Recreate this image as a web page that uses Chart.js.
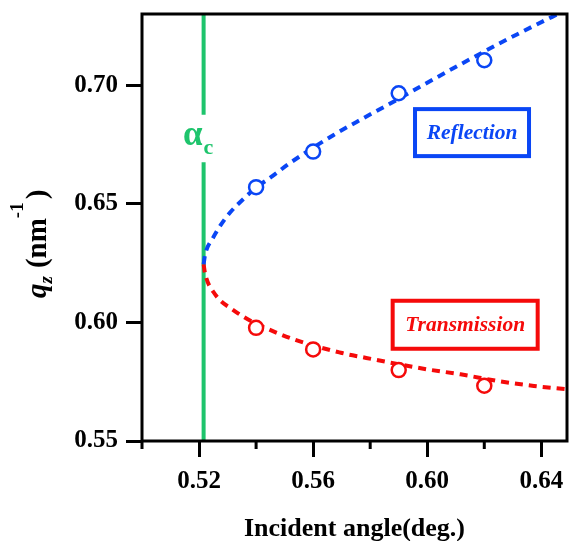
<!DOCTYPE html>
<html>
<head>
<meta charset="utf-8">
<script src="https://cdn.jsdelivr.net/npm/chart.js@4"></script>
<style>
  body { margin: 0; background: #fff; }
  canvas { display: block; }
</style>
</head>
<body>
<canvas id="chart" width="569" height="541"></canvas>
<script>
// measured points (circles)
const reflAngle = [0.54, 0.56, 0.59, 0.62];
const reflQz = [0.657, 0.672, 0.6966, 0.7105];
const transAngle = [0.54, 0.56, 0.59, 0.62];
const transQz = [0.5977, 0.5886, 0.5799, 0.5733];

// fitted curves (dashed)
const reflFitAngle = [0.5216, 0.5221, 0.5249, 0.5273, 0.5308, 0.5351, 0.54, 0.5452, 0.5519, 0.5672, 0.5778, 0.5872, 0.6117, 0.6316, 0.6438, 0.649];
const reflFitQz = [0.6245, 0.6284, 0.6356, 0.6405, 0.6462, 0.6515, 0.6568, 0.6612, 0.6672, 0.679, 0.6862, 0.6924, 0.7088, 0.7215, 0.7288, 0.7318];
const transFitAngle = [0.5216, 0.5221, 0.525, 0.532, 0.5487, 0.5697, 0.5774, 0.6, 0.6117, 0.6257, 0.6374, 0.649];
const transFitQz = [0.6245, 0.6207, 0.6129, 0.6052, 0.5949, 0.5872, 0.5853, 0.5802, 0.5781, 0.5751, 0.5732, 0.5718];

// critical angle line (broken where the label sits)
const alphaC = 0.5216;
const alphaCLineQz = [0.55, 0.6675, null, 0.6875, 0.73];

const xTicks = [0.52, 0.56, 0.60, 0.64];
const xMinorTicks = [0.50, 0.54, 0.58, 0.62];
const yTicks = [0.55, 0.60, 0.65, 0.70];

const BLUE = '#0a46f5';
const RED = '#f50a0a';
const GREEN = '#1ec46c';
const SERIF = '"Liberation Serif", "Times New Roman", serif';

const toXY = (xs, ys) => xs.map((x, i) => ({ x: x, y: ys[i] }));

const fitLine = (label, xs, ys, color) => ({
  type: 'line',
  label: label,
  data: toXY(xs, ys),
  borderColor: color,
  borderWidth: 4,
  borderDash: [8, 6],
  pointRadius: 0,
  cubicInterpolationMode: 'monotone',
  fill: false,
  clip: 0,
  order: 2,
});

const markers = (label, xs, ys, color) => ({
  label: label,
  data: toXY(xs, ys),
  borderColor: color,
  backgroundColor: '#fff',
  borderWidth: 2.5,
  pointRadius: 7,
  pointStyle: 'circle',
  order: 0,
});

const extras = {
  id: 'extras',
  afterDraw(chart) {
    const { ctx, chartArea: a, scales } = chart;
    const xs = scales.x, ys = scales.y;
    ctx.save();

    // frame
    ctx.strokeStyle = '#000';
    ctx.lineWidth = 3;
    ctx.strokeRect(a.left, a.top, a.right - a.left, a.bottom - a.top);

    // minor x ticks
    ctx.beginPath();
    xMinorTicks.forEach((v) => {
      const px = xs.getPixelForValue(v);
      ctx.moveTo(px, a.bottom);
      ctx.lineTo(px, a.bottom + 8);
    });
    ctx.stroke();

    // alpha_c label
    const cx = xs.getPixelForValue(alphaC);
    ctx.fillStyle = GREEN;
    ctx.textBaseline = 'alphabetic';
    ctx.font = 'bold 35px ' + SERIF;
    ctx.textAlign = 'right';
    ctx.fillText('α', cx - 1, 145);
    ctx.textAlign = 'left';
    ctx.font = 'bold 22px ' + SERIF;
    ctx.fillText('c', cx + 0, 154);

    // legend boxes
    const box = (text, vx, vy, w, h, color) => {
      const px = xs.getPixelForValue(vx), py = ys.getPixelForValue(vy);
      ctx.strokeStyle = color;
      ctx.lineWidth = 4;
      ctx.strokeRect(px - w / 2, py - h / 2, w, h);
      ctx.fillStyle = color;
      ctx.font = 'italic bold 21.5px ' + SERIF;
      ctx.textAlign = 'center';
      ctx.textBaseline = 'middle';
      ctx.fillText(text, px, py + 1);
    };
    box('Reflection', 0.6157, 0.680, 114, 47, BLUE);
    box('Transmission', 0.6133, 0.599, 145, 48, RED);

    // x title
    ctx.fillStyle = '#000';
    ctx.font = 'bold 26px ' + SERIF;
    ctx.textAlign = 'center';
    ctx.textBaseline = 'alphabetic';
    ctx.fillText('Incident angle(deg.)', (a.left + a.right) / 2, 536);

    // y title: q_z (nm^-1)
    ctx.translate(46, 298);
    ctx.rotate(-Math.PI / 2);
    ctx.textAlign = 'left';
    let tx = 0;
    const put = (t, font, dy) => {
      ctx.font = font;
      ctx.fillText(t, tx, dy);
      tx += ctx.measureText(t).width;
    };
    put('q', 'italic bold 29px ' + SERIF, 0);
    put('z', 'italic bold 19px ' + SERIF, 6);
    tx += 8;
    put('(nm', 'bold 29px ' + SERIF, 0);
    put('-1', 'bold 19px ' + SERIF, -23);
    tx += 3;
    put(')', 'bold 29px ' + SERIF, 0);

    ctx.restore();
  },
};

const tickFont = { family: SERIF, size: 25, weight: 'bold' };

new Chart(document.getElementById('chart'), {
  type: 'scatter',
  data: {
    datasets: [
      markers('Reflection data', reflAngle, reflQz, BLUE),
      markers('Transmission data', transAngle, transQz, RED),
      fitLine('Reflection fit', reflFitAngle, reflFitQz, BLUE),
      fitLine('Transmission fit', transFitAngle, transFitQz, RED),
      {
        type: 'line',
        label: 'alpha_c',
        data: alphaCLineQz.map((y) => ({ x: alphaC, y: y })),
        borderColor: GREEN,
        borderWidth: 4,
        pointRadius: 0,
        spanGaps: false,
        order: 3,
      },
    ],
  },
  options: {
    responsive: false,
    animation: false,
    layout: { autoPadding: false, padding: { top: 14, right: 2, left: 0, bottom: 0 } },
    plugins: { legend: { display: false }, tooltip: { enabled: false } },
    scales: {
      x: {
        type: 'linear',
        min: 0.50,
        max: 0.649,
        afterBuildTicks: (s) => { s.ticks = xTicks.map((v) => ({ value: v })); },
        afterFit: (s) => { s.height = 100; s.paddingLeft = 0; s.paddingRight = 0; },
        grid: { drawOnChartArea: false, color: '#000', tickColor: '#000', tickLength: 16, tickWidth: 3 },
        border: { display: false },
        ticks: { font: tickFont, color: '#000', padding: 10, maxRotation: 0, callback: (v) => v.toFixed(2) },
      },
      y: {
        type: 'linear',
        min: 0.55,
        max: 0.73,
        afterBuildTicks: (s) => { s.ticks = yTicks.map((v) => ({ value: v })); },
        afterFit: (s) => { s.width = 142; s.paddingTop = 0; s.paddingBottom = 0; },
        grid: { drawOnChartArea: false, color: '#000', tickColor: '#000', tickLength: 16, tickWidth: 3 },
        border: { display: false },
        ticks: { font: tickFont, color: '#000', padding: 8, callback: (v) => v.toFixed(2) },
      },
    },
  },
  plugins: [extras],
});
</script>
</body>
</html>
